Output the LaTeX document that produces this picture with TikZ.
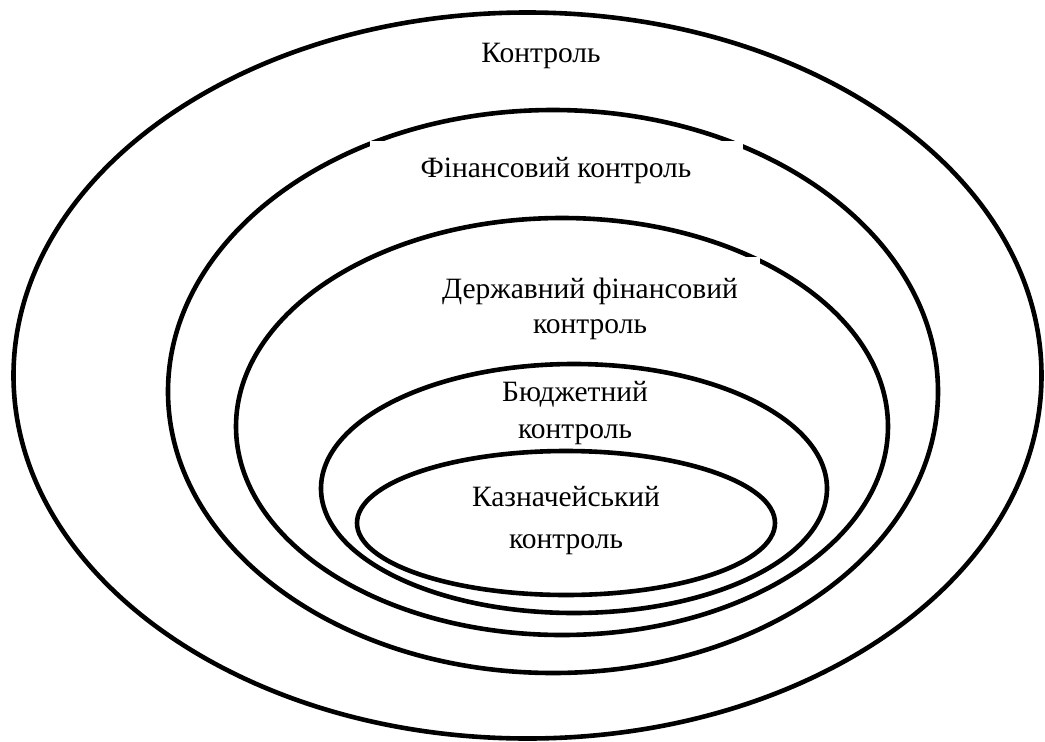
\documentclass[tikz,border=0pt]{standalone}
\usepackage{fontspec}
\setmainfont{Liberation Serif}
\usetikzlibrary{shapes.geometric}
\begin{document}
\begin{tikzpicture}[x=1pt,y=-1pt,
  ring/.style={ellipse,draw=black,line width=4.6pt,inner sep=0pt,outer sep=0pt},
  lbl/.style={font=\fontsize{29.5}{36}\selectfont,align=center,inner sep=0pt},
  cover/.style={fill=white,inner sep=0pt,outer sep=0pt}]
\useasboundingbox (0,0) rectangle (1045,742);
\node[ring,minimum width=1028pt,minimum height=726pt] (e1) at (527.5,375.5) {};
\node[ring,minimum width=770pt,minimum height=563pt] (e2) at (553,391.5) {};
\node[ring,minimum width=652pt,minimum height=417pt] (e3) at (562,426.5) {};
\node[ring,minimum width=506pt,minimum height=249pt] (e4) at (574,488.5) {};
\node[ring,minimum width=418pt,minimum height=144pt] (e5) at (566,523) {};
\node[cover,minimum width=373pt,minimum height=58pt] (b2) at (556.5,170) {};
\node[cover,minimum width=340pt,minimum height=98pt] (b3) at (590,306) {};
\node[lbl] (t1) at (541,56) {Контроль};
\node[lbl] (t2) at (556,171) {Фінансовий контроль};
\node[lbl,font=\fontsize{29.5}{35}\selectfont] (t3) at (590,309) {Державний фінансовий\\контроль};
\node[lbl,font=\fontsize{29.5}{37}\selectfont] (t4) at (575,413) {Бюджетний\\контроль};
\node[lbl,font=\fontsize{29.5}{42}\selectfont] (t5) at (566,521) {Казначейський\\контроль};
\end{tikzpicture}
\end{document}
